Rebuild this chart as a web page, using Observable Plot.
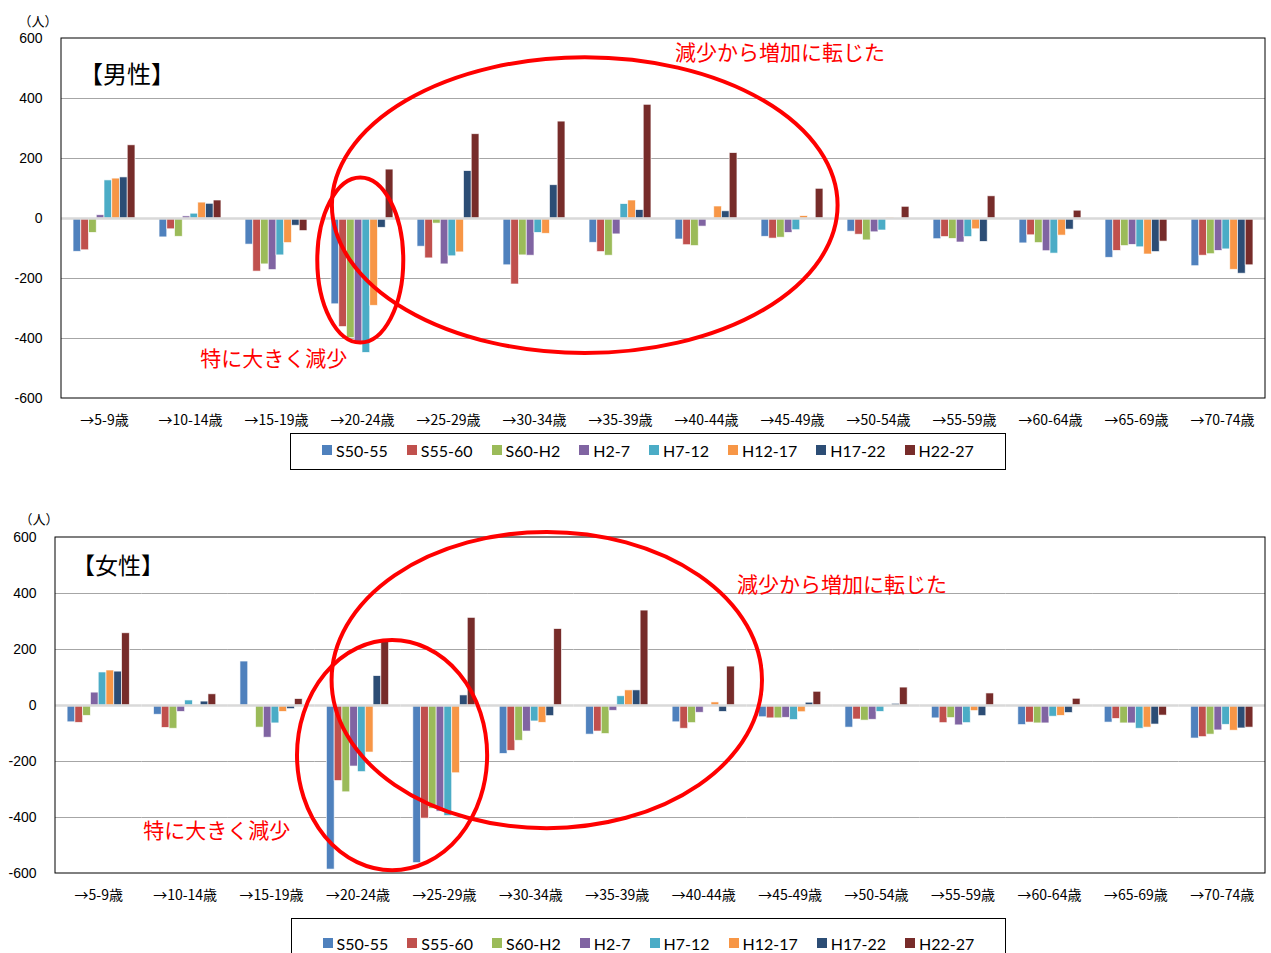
<!DOCTYPE html>
<html>
<head>
<meta charset="utf-8">
<script src="https://cdn.jsdelivr.net/npm/d3@7"></script>
<script src="https://cdn.jsdelivr.net/npm/@observablehq/plot@0.6"></script>
<style>
  body { margin: 0; background: #fff; width: 1271px; height: 953px; overflow: hidden; font-family: "Noto Sans CJK JP", sans-serif; }
  .legend { box-sizing: border-box; border: 1px solid #000; display: flex; align-items: center; justify-content: center; gap: 19px; font: 16px Lato, "Noto Sans", sans-serif; color: #000; }
  .legend .item { display: flex; align-items: center; }
  .legend .sw { display: inline-block; width: 10px; height: 10px; margin-right: 4px; }
  svg [aria-label^="fx-axis"] text { font-family: "Noto Sans CJK JP", sans-serif; font-size: 14px; }
  svg [aria-label^="y-axis"] text { font-family: "Liberation Sans", Arial, sans-serif; font-size: 14px; }
</style>
</head>
<body>
<div id="male"></div>
<div id="male-legend" class="legend" style="margin-left:290px;width:716px;height:37px;margin-top:1px;padding-bottom:3px"></div>
<div style="height:27px"></div>
<div id="female"></div>
<div id="female-legend" class="legend" style="margin-left:291px;width:715px;height:50px;margin-top:11px"></div>
<script>
// Age groups (cohort moving into the group) and the eight five-year periods
const ages = ["→5-9歳", "→10-14歳", "→15-19歳", "→20-24歳", "→25-29歳", "→30-34歳", "→35-39歳",
              "→40-44歳", "→45-49歳", "→50-54歳", "→55-59歳", "→60-64歳", "→65-69歳", "→70-74歳"];
const series = ["S50-55", "S55-60", "S60-H2", "H2-7", "H7-12", "H12-17", "H17-22", "H22-27"];
const colors = ["#4F81BD", "#C0504D", "#9BBB59", "#8064A2", "#4BACC6", "#F79646", "#2C4D75", "#772C2A"];
const yTicks = [-600, -400, -200, 0, 200, 400, 600];
const gridValues = [-400, -200, 200, 400];

// 男性: net change (人) per period, one array per period
const maleS50_55 = [-111, -63, -87, -286, -94, -156, -81, -70, -61, -44, -69, -83, -131, -159];
const maleS55_60 = [-106, -36, -177, -362, -133, -220, -112, -89, -67, -54, -62, -56, -108, -124];
const maleS60_H2 = [-48, -61, -153, -399, -17, -123, -124, -92, -64, -73, -68, -82, -92, -119];
const maleH2_7   = [11, 7, -172, -419, -153, -124, -53, -27, -48, -46, -80, -109, -88, -108];
const maleH7_12  = [127, 16, -123, -448, -126, -48, 48, 0, -39, -40, -62, -117, -96, -103];
const maleH12_17 = [133, 53, -82, -291, -113, -51, 60, 40, 8, 3, -36, -57, -120, -171];
const maleH17_22 = [137, 49, -24, -31, 158, 111, 28, 24, 0, 0, -78, -37, -112, -184];
const maleH22_27 = [244, 60, -42, 163, 281, 323, 379, 218, 99, 39, 74, 26, -77, -156];

// 女性
const femaleS50_55 = [-60, -33, 157, -586, -563, -173, -104, -60, -42, -79, -46, -70, -61, -118];
const femaleS55_60 = [-62, -80, 0, -270, -404, -162, -93, -83, -46, -50, -63, -61, -48, -113];
const femaleS60_H2 = [-37, -83, -79, -310, -369, -126, -102, -63, -46, -54, -45, -64, -64, -104];
const femaleH2_7   = [46, -23, -115, -218, -379, -93, -19, -26, -44, -51, -71, -64, -64, -89];
const femaleH7_12  = [118, 18, -64, -238, -395, -57, 33, 0, -52, -23, -63, -40, -83, -69];
const femaleH12_17 = [125, 0, -23, -168, -242, -62, 54, 11, -24, 0, -20, -37, -79, -90];
const femaleH17_22 = [121, 14, -13, 105, 36, -38, 54, -23, 10, 6, -38, -27, -68, -82];
const femaleH22_27 = [258, 40, 23, 233, 313, 273, 339, 139, 49, 64, 43, 24, -36, -79];

const maleValues = [maleS50_55, maleS55_60, maleS60_H2, maleH2_7, maleH7_12, maleH12_17, maleH17_22, maleH22_27];
const femaleValues = [femaleS50_55, femaleS55_60, femaleS60_H2, femaleH2_7, femaleH7_12, femaleH12_17, femaleH17_22, femaleH22_27];

// Callouts: u is measured in age-group bands from the left edge, y in 人
const maleEllipses = [{u: 6.09, y: 43, ru: 2.94, ry: 493}, {u: 3.48, y: -140, ru: 0.5, ry: 275}];
const maleNotes = [{u: 7.14, y: 557, text: "減少から増加に転じた"}, {u: 1.62, y: -463, text: "特に大きく減少"}];
const femaleEllipses = [{u: 5.69, y: 89, ru: 2.49, ry: 529}, {u: 3.9, y: -179, ru: 1.1, ry: 411}];
const femaleNotes = [{u: 7.89, y: 436, text: "減少から増加に転じた"}, {u: 1.02, y: -443, text: "特に大きく減少"}];

function drawChart({values, title, titleSize, height, marginLeft, marginTop, titleDx, titleDy, unitDx, unitDy, ellipses, notes}) {
  const rows = series.flatMap((s, j) => ages.map((a, i) => ({age: a, series: s, value: values[j][i]})));
  const chart = Plot.plot({
    width: 1271,
    height,
    marginLeft,
    marginRight: 6,
    marginTop,
    marginBottom: 34,
    style: {background: "white", overflow: "visible"},
    fx: {domain: ages, padding: 0, round: false, axis: "bottom", label: null, tickSize: 0, tickPadding: 17},
    x: {domain: series, axis: null, paddingInner: 0, paddingOuter: 1.556, round: false},
    y: {domain: [-600, 600], ticks: yTicks, tickFormat: d => String(d), tickSize: 0, tickPadding: 19, label: null},
    color: {domain: series, range: colors},
    marks: [
      Plot.ruleY(gridValues, {stroke: "#a6a6a6", strokeWidth: 1}),
      Plot.barY(rows, {fx: "age", x: "series", y: "value", fill: "series", stroke: "#fff", strokeWidth: 0.8, strokeOpacity: 0.8}),
      Plot.ruleY([0], {stroke: "#d9d9d9", strokeWidth: 2.5})
    ]
  });

  const fx = chart.scale("fx");
  const y = chart.scale("y");
  const left = fx.range[0], right = fx.range[1];
  const step = (right - left) / ages.length;
  const top = y.apply(600), bottom = y.apply(-600);
  const g = d3.select(chart).append("g").attr("text-anchor", "start");

  g.append("rect")
    .attr("x", left).attr("y", top)
    .attr("width", right - left).attr("height", bottom - top)
    .attr("fill", "none").attr("stroke", "#000").attr("stroke-width", 1);

  g.append("text")
    .attr("x", left + unitDx).attr("y", top + unitDy)
    .attr("text-anchor", "middle").attr("dominant-baseline", "central")
    .attr("font-family", "Noto Sans CJK JP").attr("font-size", 13)
    .text("（人）");

  g.append("text")
    .attr("x", left + titleDx).attr("y", top + titleDy)
    .attr("text-anchor", "start").attr("dominant-baseline", "central")
    .attr("font-family", "Noto Sans CJK JP").attr("font-size", titleSize)
    .text(title);

  g.selectAll("ellipse").data(ellipses).join("ellipse")
    .attr("cx", d => left + d.u * step)
    .attr("cy", d => y.apply(d.y))
    .attr("rx", d => d.ru * step)
    .attr("ry", d => Math.abs(y.apply(d.y + d.ry) - y.apply(d.y)))
    .attr("fill", "none").attr("stroke", "#ff0000").attr("stroke-width", 4);

  g.selectAll("text.note").data(notes).join("text")
    .attr("class", "note")
    .attr("x", d => left + d.u * step)
    .attr("y", d => y.apply(d.y))
    .attr("text-anchor", "start").attr("dominant-baseline", "central")
    .attr("font-family", "Noto Sans CJK JP").attr("font-size", 21)
    .attr("fill", "#ff0000")
    .text(d => d.text);

  return chart;
}

function drawLegend(el) {
  const items = d3.select(el).selectAll("span.item").data(series).join("span").attr("class", "item");
  items.append("span").attr("class", "sw").style("background", (d, i) => colors[i]);
  items.append("span").text(d => d);
}

document.getElementById("male").append(drawChart({
  values: maleValues, title: "【男性】", titleSize: 24, height: 432, marginLeft: 61, marginTop: 38,
  titleDx: 18, titleDy: 34, unitDx: -23, unitDy: -18,
  ellipses: maleEllipses, notes: maleNotes
}));
document.getElementById("female").append(drawChart({
  values: femaleValues, title: "【女性】", titleSize: 23, height: 410, marginLeft: 55, marginTop: 40,
  titleDx: 17, titleDy: 27, unitDx: -16, unitDy: -19,
  ellipses: femaleEllipses, notes: femaleNotes
}));
drawLegend(document.getElementById("male-legend"));
drawLegend(document.getElementById("female-legend"));
</script>
</body>
</html>
